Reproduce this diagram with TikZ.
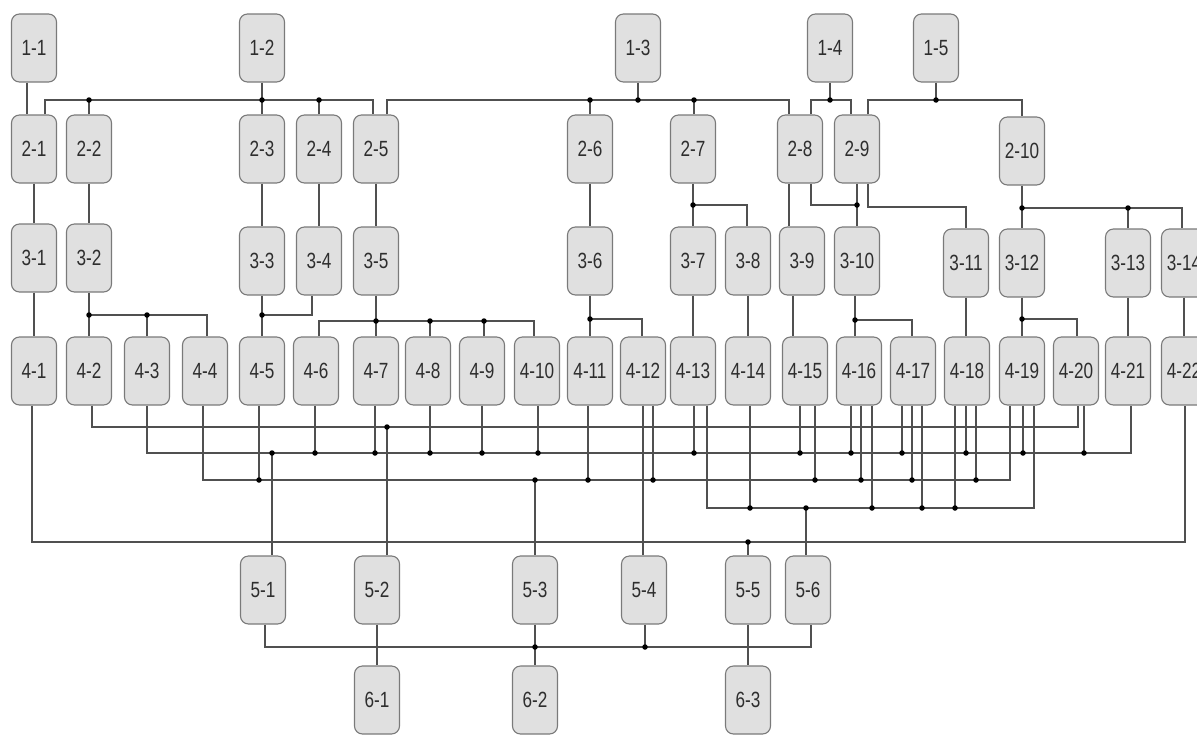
\documentclass[tikz,border=0pt]{standalone}
\usepackage{fontspec}
\setmainfont{Liberation Sans}[FakeStretch=0.78]
\definecolor{boxfill}{HTML}{E0E0E0}
\definecolor{boxline}{HTML}{7A7A7A}
\definecolor{wirecol}{HTML}{505050}
\definecolor{labeltext}{HTML}{2E2E2E}
\newcommand\labelfont{\fontsize{22}{24}\selectfont}
\tikzset{
  box/.style={draw=boxline, fill=boxfill, rounded corners=8pt, minimum width=45pt,
    minimum height=68pt, inner sep=0pt, line width=1.1pt, text=labeltext, font=\labelfont},
  wire/.style={draw=wirecol, line width=1.3pt},
  jdot/.style={circle, fill=black, inner sep=0pt, minimum size=5.5pt},
}
% vertical drop from a node's bottom (or top) to a bus, ending in a junction dot
\newcommand\busdrop[3]{\draw[wire] ([xshift=#1]#2.south) coordinate (dt) -- (dt |- #3) node[jdot]{};}
\newcommand\busrise[3]{\draw[wire] ([xshift=#1]#2.north) coordinate (dt) -- (dt |- #3) node[jdot]{};}
\begin{document}
\begin{tikzpicture}[x=1pt, y=-1pt]
\useasboundingbox (0,0) rectangle (1197,734);

% ---- level 1
\node[box] (n11) at (34,48) {1-1};
\node[box] (n12) at (262,48) {1-2};
\node[box] (n13) at (638,48) {1-3};
\node[box] (n14) at (830,48) {1-4};
\node[box] (n15) at (936,48) {1-5};
% ---- level 2
\node[box] (n21) at (34,149) {2-1};
\node[box] (n22) at (89,149) {2-2};
\node[box] (n23) at (262,149) {2-3};
\node[box] (n24) at (319,149) {2-4};
\node[box] (n25) at (376,149) {2-5};
\node[box] (n26) at (590,149) {2-6};
\node[box] (n27) at (693,149) {2-7};
\node[box] (n28) at (800,149) {2-8};
\node[box] (n29) at (857,149) {2-9};
\node[box] (n210) at (1022,151) {2-10};
% ---- level 3
\node[box] (n31) at (34,258) {3-1};
\node[box] (n32) at (89,258) {3-2};
\node[box] (n33) at (262,261) {3-3};
\node[box] (n34) at (319,261) {3-4};
\node[box] (n35) at (376,261) {3-5};
\node[box] (n36) at (590,261) {3-6};
\node[box] (n37) at (693,261) {3-7};
\node[box] (n38) at (748,261) {3-8};
\node[box] (n39) at (802,261) {3-9};
\node[box] (n310) at (857,261) {3-10};
\node[box] (n311) at (966,263) {3-11};
\node[box] (n312) at (1022,263) {3-12};
\node[box] (n313) at (1128,263) {3-13};
\node[box] (n314) at (1184,263) {3-14};
% ---- level 4
\node[box] (n41) at (34,371) {4-1};
\node[box] (n42) at (89,371) {4-2};
\node[box] (n43) at (147,371) {4-3};
\node[box] (n44) at (205,371) {4-4};
\node[box] (n45) at (262,371) {4-5};
\node[box] (n46) at (316,371) {4-6};
\node[box] (n47) at (376,371) {4-7};
\node[box] (n48) at (428,371) {4-8};
\node[box] (n49) at (482,371) {4-9};
\node[box] (n410) at (537,371) {4-10};
\node[box] (n411) at (590,371) {4-11};
\node[box] (n412) at (643,371) {4-12};
\node[box] (n413) at (693,371) {4-13};
\node[box] (n414) at (748,371) {4-14};
\node[box] (n415) at (805,371) {4-15};
\node[box] (n416) at (859,371) {4-16};
\node[box] (n417) at (913,371) {4-17};
\node[box] (n418) at (967,371) {4-18};
\node[box] (n419) at (1022,371) {4-19};
\node[box] (n420) at (1076,371) {4-20};
\node[box] (n421) at (1128,371) {4-21};
\node[box] (n422) at (1184,371) {4-22};
% ---- level 5
\node[box] (n51) at (263,590) {5-1};
\node[box] (n52) at (377,590) {5-2};
\node[box] (n53) at (535,590) {5-3};
\node[box] (n54) at (644,590) {5-4};
\node[box] (n55) at (748,590) {5-5};
\node[box] (n56) at (808,590) {5-6};
% ---- level 6
\node[box] (n61) at (377,700) {6-1};
\node[box] (n62) at (535,700) {6-2};
\node[box] (n63) at (748,700) {6-3};

% ===== level 1 -> level 2
\coordinate (p12) at (262,100);
\coordinate (p13) at (638,100);
\coordinate (p14) at (830,100);
\coordinate (p15) at (936,100);
\draw[wire] ([xshift=-7pt]n11.south) -- ([xshift=-7pt]n21.north);
\draw[wire] ([xshift=11pt]n21.north) |- (p12) -| ([xshift=-3pt]n25.north);
\draw[wire] (n12.south) -- (n23.north);
\node[jdot] at (p12) {};
\busrise{0pt}{n22}{p12}
\busrise{0pt}{n24}{p12}
\draw[wire] ([xshift=11pt]n25.north) |- (p13) -| ([xshift=-11pt]n28.north);
\draw[wire] (n13.south) -- (p13) node[jdot]{};
\busrise{0pt}{n26}{p13}
\busrise{1pt}{n27}{p13}
\draw[wire] ([xshift=11pt]n28.north) |- (p14) -| ([xshift=-6pt]n29.north);
\draw[wire] (n14.south) -- (p14) node[jdot]{};
\draw[wire] ([xshift=11pt]n29.north) |- (p15) -| (n210.north);
\draw[wire] (n15.south) -- (p15) node[jdot]{};

% ===== level 2 -> level 3
\draw[wire] (n21.south) -- (n31.north);
\draw[wire] (n22.south) -- (n32.north);
\draw[wire] (n23.south) -- (n33.north);
\draw[wire] (n24.south) -- (n34.north);
\draw[wire] (n25.south) -- (n35.north);
\draw[wire] (n26.south) -- (n36.north);
\draw[wire] (n27.south) -- (n37.north);
\coordinate (p27) at (693,205);
\draw[wire] (p27) -| ([xshift=-1pt]n38.north);
\node[jdot] at (p27) {};
\draw[wire] ([xshift=-11pt]n28.south) -- ([xshift=-13pt]n39.north);
\coordinate (p29) at (857,205);
\draw[wire] ([xshift=11pt]n28.south) |- (p29);
\draw[wire] (n29.south) -- (n310.north);
\node[jdot] at (p29) {};
\coordinate (q311) at (966,207);
\draw[wire] ([xshift=11pt]n29.south) |- (q311) -- (n311.north);
\coordinate (p210) at (1022,208);
\draw[wire] (n210.south) -- (n312.north);
\draw[wire] (p210) -| ([xshift=-2pt]n314.north);
\node[jdot] at (p210) {};
\busrise{0pt}{n313}{p210}

% ===== level 3 -> level 4
\draw[wire] (n31.south) -- (n41.north);
\coordinate (p32) at (89,315);
\draw[wire] (n32.south) -- (n42.north);
\draw[wire] (p32) -| ([xshift=2pt]n44.north);
\node[jdot] at (p32) {};
\busrise{0pt}{n43}{p32}
\coordinate (p33) at (262,315);
\draw[wire] (n33.south) -- (n45.north);
\draw[wire] (p33) -| ([xshift=-7pt]n34.south);
\node[jdot] at (p33) {};
\coordinate (p35) at (376,321);
\draw[wire] (n35.south) -- (n47.north);
\draw[wire] ([xshift=3pt]n46.north) |- (p35) -| ([xshift=-3pt]n410.north);
\node[jdot] at (p35) {};
\busrise{2pt}{n48}{p35}
\busrise{2pt}{n49}{p35}
\coordinate (p36) at (590,319);
\draw[wire] (n36.south) -- (n411.north);
\draw[wire] (p36) -| ([xshift=-1pt]n412.north);
\node[jdot] at (p36) {};
\draw[wire] (n37.south) -- (n413.north);
\draw[wire] (n38.south) -- (n414.north);
\draw[wire] ([xshift=-9pt]n39.south) -- ([xshift=-12pt]n415.north);
\coordinate (p310) at (855,320);
\draw[wire] ([xshift=-2pt]n310.south) -- ([xshift=-4pt]n416.north);
\draw[wire] (p310) -| ([xshift=-1pt]n417.north);
\node[jdot] at (p310) {};
\draw[wire] (n311.south) -- ([xshift=-1pt]n418.north);
\coordinate (p312) at (1022,319);
\draw[wire] (n312.south) -- (n419.north);
\draw[wire] (p312) -| ([xshift=1pt]n420.north);
\node[jdot] at (p312) {};
\draw[wire] (n313.south) -- (n421.north);
\draw[wire] (n314.south) -- (n422.north);

% ===== level 4 -> level 5 buses
% bus A
\coordinate (a52) at (387,427);
\draw[wire] ([xshift=3pt]n42.south) |- (a52) -| ([xshift=2pt]n420.south);
\draw[wire] (a52) -- ([xshift=10pt]n52.north);
\node[jdot] at (a52) {};
% bus B
\coordinate (b51) at (272,453);
\draw[wire] (n43.south) |- (b51) -| ([xshift=3pt]n421.south);
\draw[wire] (b51) -- ([xshift=9pt]n51.north);
\node[jdot] at (b51) {};
\busdrop{-1pt}{n46}{b51}
\busdrop{-1pt}{n47}{b51}
\busdrop{2pt}{n48}{b51}
\busdrop{0pt}{n49}{b51}
\busdrop{1pt}{n410}{b51}
\busdrop{1pt}{n413}{b51}
\busdrop{-5pt}{n415}{b51}
\busdrop{-8pt}{n416}{b51}
\busdrop{-11pt}{n417}{b51}
\busdrop{-1pt}{n418}{b51}
\busdrop{1pt}{n419}{b51}
\busdrop{8pt}{n420}{b51}
% bus C
\coordinate (c53) at (535,480);
\draw[wire] ([xshift=-2pt]n44.south) |- (c53) -| ([xshift=-12pt]n419.south);
\draw[wire] (c53) -- (n53.north);
\node[jdot] at (c53) {};
\busdrop{-3pt}{n45}{c53}
\busdrop{-2pt}{n411}{c53}
\busdrop{10pt}{n412}{c53}
\busdrop{10pt}{n415}{c53}
\busdrop{2pt}{n416}{c53}
\busdrop{-1pt}{n417}{c53}
\busdrop{9pt}{n418}{c53}
% bus F
\coordinate (f56) at (806,508);
\draw[wire] ([xshift=14pt]n413.south) |- (f56) -| ([xshift=12pt]n419.south);
\draw[wire] (f56) -- ([xshift=-2pt]n56.north);
\node[jdot] at (f56) {};
\busdrop{2pt}{n414}{f56}
\busdrop{13pt}{n416}{f56}
\busdrop{9pt}{n417}{f56}
\busdrop{-12pt}{n418}{f56}
% bus D
\coordinate (d55) at (748,542);
\draw[wire] ([xshift=-2pt]n41.south) |- (d55) -| ([xshift=1pt]n422.south);
\draw[wire] (d55) -- (n55.north);
\node[jdot] at (d55) {};
% direct link
\draw[wire] (n412.south) -- ([xshift=-1pt]n54.north);

% ===== level 5 -> level 6
\coordinate (e62) at (535,647);
\draw[wire] ([xshift=2pt]n51.south) |- (e62) -| ([xshift=3pt]n56.south);
\draw[wire] (n53.south) -- (n62.north);
\node[jdot] at (e62) {};
\busdrop{1pt}{n54}{e62}
\draw[wire] (n52.south) -- (n61.north);
\draw[wire] (n55.south) -- (n63.north);
\end{tikzpicture}
\end{document}
